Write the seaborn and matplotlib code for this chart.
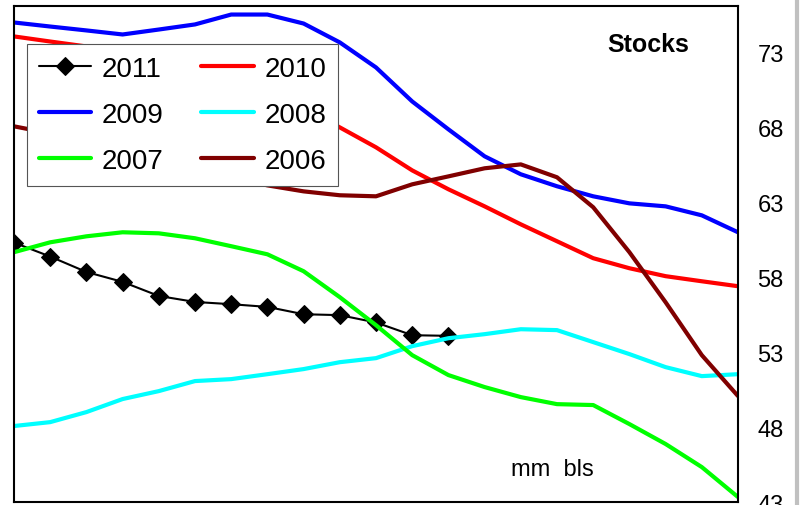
import numpy as np
import pandas as pd
import matplotlib
matplotlib.use("Agg")
import matplotlib.pyplot as plt
import seaborn as sns
from matplotlib.lines import Line2D

# weekly stock levels (mm bls)
weeks = list(range(21))
s2011 = [60.31, 59.38, 58.35, 57.69, 56.75, 56.35, 56.20, 56.02, 55.53, 55.47, 54.98, 54.13, 54.09]
s2010 = [74.07, 73.73, 73.40, 73.00, 72.50, 71.90, 71.20, 70.40, 69.30, 68.00, 66.67, 65.13, 63.87,
         62.73, 61.53, 60.40, 59.27, 58.60, 58.07, 57.73, 57.40]
s2009 = [75.00, 74.73, 74.47, 74.20, 74.53, 74.87, 75.53, 75.53, 74.93, 73.67, 72.00, 69.73, 67.87,
         66.07, 64.87, 64.07, 63.40, 62.93, 62.73, 62.13, 61.00]
s2008 = [48.07, 48.33, 49.00, 49.87, 50.40, 51.07, 51.20, 51.53, 51.87, 52.33, 52.60, 53.40, 53.93,
         54.20, 54.53, 54.47, 53.67, 52.87, 52.00, 51.40, 51.53]
s2007 = [59.67, 60.33, 60.73, 61.00, 60.93, 60.60, 60.07, 59.53, 58.40, 56.67, 54.80, 52.80, 51.47,
         50.67, 50.00, 49.53, 49.47, 48.20, 46.87, 45.33, 43.33]
s2006 = [68.07, 67.60, 67.10, 66.50, 65.90, 65.30, 64.70, 64.13, 63.73, 63.47, 63.40, 64.20, 64.73,
         65.27, 65.53, 64.67, 62.67, 59.67, 56.33, 52.80, 50.07]

yticks = [43, 48, 53, 58, 63, 68, 73]

sns.set_style("white")
plt.rcParams["font.family"] = ["Liberation Sans", "DejaVu Sans"]
plt.rcParams["text.color"] = "black"
plt.rcParams["ytick.color"] = "black"

fig = plt.figure(figsize=(8, 5.06), dpi=100)
ax = fig.add_axes([14 / 800, 3 / 506, 724 / 800, 496 / 506])

sns.lineplot(x=weeks[:len(s2011)], y=s2011, ax=ax, color="black", linewidth=1.5,
             marker="D", markersize=9, markeredgecolor="black", label="2011")
sns.lineplot(x=weeks, y=s2010, ax=ax, color="#ff0000", linewidth=3, label="2010")
sns.lineplot(x=weeks, y=s2009, ax=ax, color="#0000ff", linewidth=3, label="2009")
sns.lineplot(x=weeks, y=s2008, ax=ax, color="#00ffff", linewidth=3, label="2008")
sns.lineplot(x=weeks, y=s2007, ax=ax, color="#00ff00", linewidth=3, label="2007")
sns.lineplot(x=weeks, y=s2006, ax=ax, color="#800000", linewidth=3, label="2006")

ax.set_xlim(0, 20)
ax.set_ylim(43, 76.1)
ax.set_xticks([])
ax.yaxis.tick_right()
ax.set_yticks(yticks)
ax.tick_params(axis="y", length=0, pad=14, labelsize=17, labelcolor="black")
ax.set_xlabel("")
ax.set_ylabel("")
for sp in ax.spines.values():
    sp.set_color("black")
    sp.set_linewidth(1.5)

# legend: 3 rows x 2 columns, row-wise 2011/2010, 2009/2008, 2007/2006
h, l = ax.get_legend_handles_labels()
order = [0, 2, 4, 1, 3, 5]
leg = ax.legend([h[i] for i in order], [l[i] for i in order], ncol=2,
                loc="upper left", bbox_to_anchor=(0.018, 0.923), borderaxespad=0,
                fontsize=20, frameon=True, fancybox=False, framealpha=1,
                edgecolor="#555555", handlelength=1.9, handletextpad=0.38,
                columnspacing=1.35, labelspacing=0.72, borderpad=0.42)
leg.get_frame().set_linewidth(0.8)
for t in leg.get_texts():
    t.set_color("black")

ax.text(0.876, 0.923, "Stocks", transform=ax.transAxes, ha="center", va="center",
        fontsize=18, fontweight="bold", color="black")
ax.text(0.743, 0.066, "mm  bls", transform=ax.transAxes, ha="center", va="center",
        fontsize=17, color="black")

# light grey edge at right of the image
fig.add_artist(Line2D([797 / 800, 797 / 800], [0, 1], color="#c0c0c0", linewidth=3,
                      transform=fig.transFigure))

fig.savefig("out.png", dpi=100)
